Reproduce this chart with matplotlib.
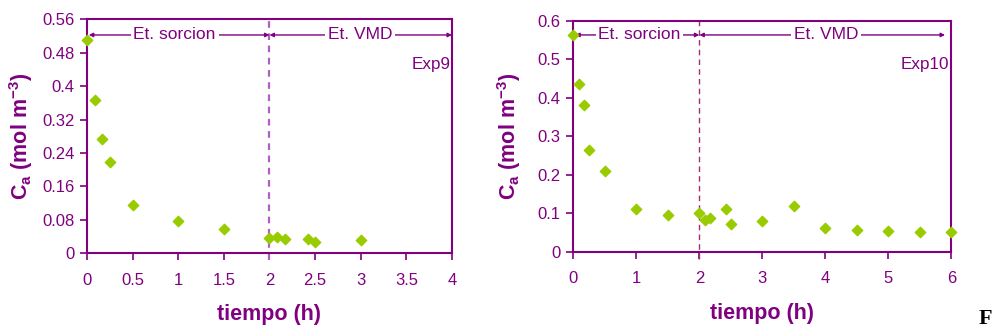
import matplotlib
matplotlib.use("Agg")
import matplotlib.pyplot as plt

plt.rcParams["font.family"] = ["Liberation Sans", "DejaVu Sans"]
plt.rcParams["mathtext.fontset"] = "custom"
plt.rcParams["mathtext.rm"] = "Liberation Sans:bold"
plt.rcParams["mathtext.bf"] = "Liberation Sans:bold"

PURPLE = "#800080"
GREEN = "#99CC00"

# Exp9
t9 = [0, 0.083, 0.167, 0.25, 0.5, 1.0, 1.5, 2.0, 2.083, 2.167, 2.417, 2.5, 3.0]
c9 = [0.511, 0.368, 0.274, 0.218, 0.115, 0.078, 0.059, 0.037, 0.039, 0.034, 0.034, 0.026, 0.031]

# Exp10
t10 = [0, 0.083, 0.167, 0.25, 0.5, 1.0, 1.5, 2.0, 2.083, 2.167, 2.417, 2.5, 3.0, 3.5,
       4.0, 4.5, 5.0, 5.5, 6.0]
c10 = [0.562, 0.435, 0.380, 0.265, 0.210, 0.111, 0.096, 0.100, 0.083, 0.087, 0.111,
       0.072, 0.081, 0.120, 0.062, 0.057, 0.054, 0.050, 0.050]

ticks9_x = [0, 0.5, 1, 1.5, 2, 2.5, 3, 3.5, 4]
ticks9_y = [0, 0.08, 0.16, 0.24, 0.32, 0.4, 0.48, 0.56]
ticks10_x = [0, 1, 2, 3, 4, 5, 6]
ticks10_y = [0, 0.1, 0.2, 0.3, 0.4, 0.5, 0.6]


def fmt(v):
    s = ("%.2f" % v).rstrip("0").rstrip(".")
    return s


def style_axes(ax, xticks, yticks):
    for sp in ax.spines.values():
        sp.set_color(PURPLE)
        sp.set_linewidth(1.5)
    ax.set_xlim(xticks[0], xticks[-1])
    ax.set_ylim(yticks[0], yticks[-1])
    ax.set_xticks(xticks)
    ax.set_yticks(yticks)
    ax.set_xticklabels([fmt(v) for v in xticks])
    ax.set_yticklabels([fmt(v) for v in yticks])
    ax.tick_params(direction="out", length=5, width=1.2, color=PURPLE,
                   labelcolor=PURPLE, labelsize=12)
    ax.tick_params(axis="x", pad=9)
    ax.tick_params(axis="y", pad=4)
    ax.set_xlabel("tiempo (h)", color=PURPLE, fontsize=15.5, fontweight="bold", labelpad=12)
    ax.set_ylabel(r"C$_\mathregular{a}$ (mol m$^\mathregular{-3}$)", color=PURPLE,
                  fontsize=15.5, fontweight="bold")


def stage_arrows(ax, y, x0, x1, x2, sorc_x, vmd_x):
    kw = dict(arrowstyle="<|-|>", color=PURPLE, lw=1.0, mutation_scale=6,
              shrinkA=0, shrinkB=0)
    ax.annotate("", xy=(x0, y), xytext=(x1, y), arrowprops=kw)
    ax.annotate("", xy=(x1, y), xytext=(x2, y), arrowprops=kw)
    box = dict(facecolor="white", edgecolor="none", pad=2)
    ax.text(sorc_x, y, "Et. sorcion", color=PURPLE, fontsize=12.5,
            ha="center", va="center", bbox=box)
    ax.text(vmd_x, y, "Et. VMD", color=PURPLE, fontsize=12.5,
            ha="center", va="center", bbox=box)


fig = plt.figure(figsize=(9.94, 3.34), dpi=100)

ax1 = fig.add_axes([0.0875, 0.2416, 0.3672, 0.7006])
style_axes(ax1, ticks9_x, ticks9_y)
ax1.axvline(2, ymin=-0.03, ymax=1, color="#B060C0", lw=1.6, ls=(0, (3, 2.5)),
            clip_on=False)
stage_arrows(ax1, 0.5225, 0.02, 2.0, 4.0, 0.96, 2.99)
ax1.text(3.98, 0.453, "Exp9", color=PURPLE, fontsize=12.3, ha="right", va="center")
ax1.scatter(t9, c9, marker="D", s=28, color=GREEN, zorder=5, clip_on=False)
ax1.yaxis.set_label_coords(-0.142, 0.5)

ax2 = fig.add_axes([0.5768, 0.2464, 0.3803, 0.6916])
style_axes(ax2, ticks10_x, ticks10_y)
ax2.axvline(2, ymin=-0.03, ymax=1, color="#A03070", lw=1.0, ls=(0, (4, 3)),
            clip_on=False)
stage_arrows(ax2, 0.563, 0.03, 2.0, 5.9, 1.05, 4.01)
ax2.text(5.97, 0.485, "Exp10", color=PURPLE, fontsize=12.3, ha="right", va="center")
ax2.scatter(t10, c10, marker="D", s=28, color=GREEN, zorder=5, clip_on=False)
ax2.yaxis.set_label_coords(-0.132, 0.5)

fig.text(0.991, 0.03, "F", fontsize=16, fontweight="bold", family="Liberation Serif",
         ha="center", va="baseline", color="black")

fig.savefig("out.png", dpi=100)
